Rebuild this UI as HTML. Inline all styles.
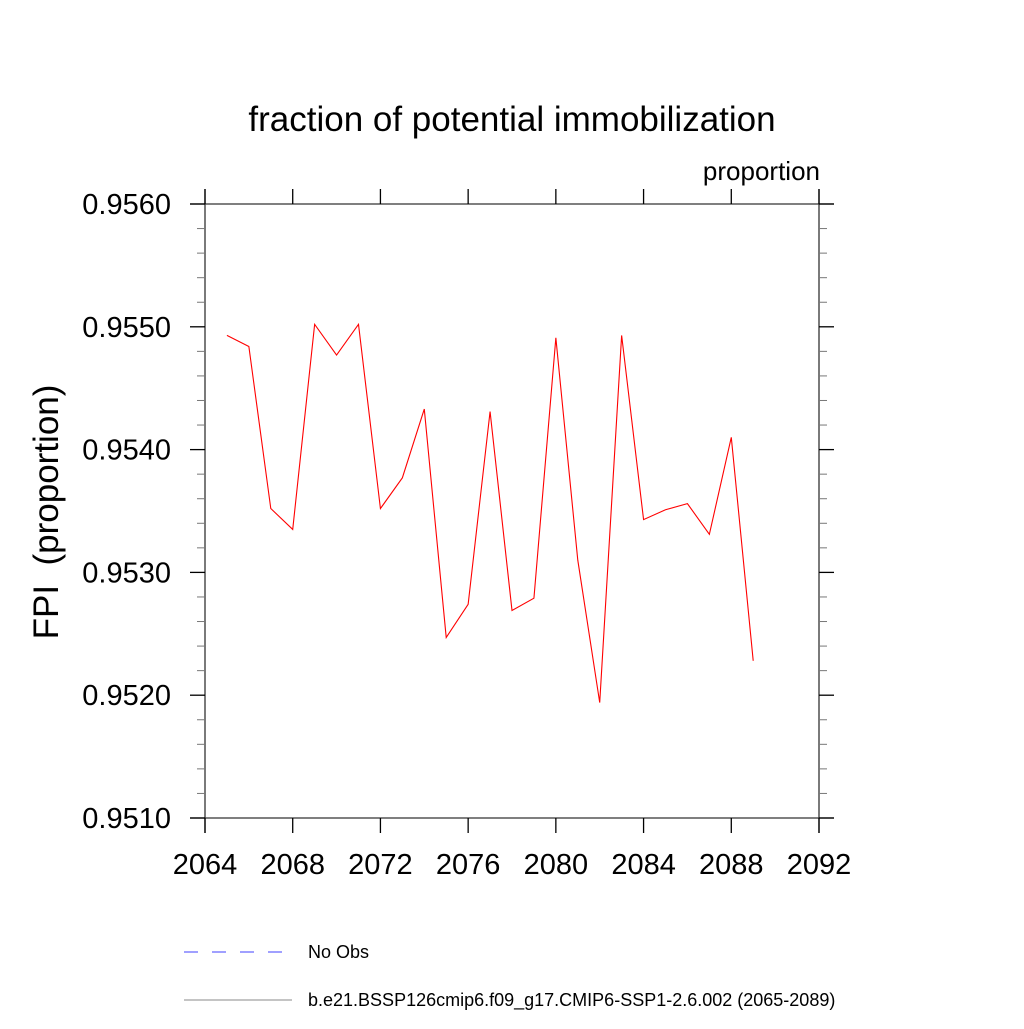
<!DOCTYPE html>
<html><head><meta charset="utf-8"><style>
body{margin:0;background:#fff;}
svg text{font-family:"Liberation Sans",sans-serif;fill:#000;}
</style></head><body>
<svg id="c" width="1024" height="1024" xmlns="http://www.w3.org/2000/svg">
<text x="512" y="131" font-size="35" text-anchor="middle">fraction of potential immobilization</text>
<text x="820" y="180" font-size="26" text-anchor="end">proportion</text>
<text transform="translate(58,512) rotate(-90)" font-size="35" text-anchor="middle">FPI&#160; (proportion)</text>
<g id="axes"></g>
<g id="series"></g>
<g>
<line x1="184" y1="952" x2="292" y2="952" stroke="#4040ff" stroke-width="1" stroke-dasharray="14,14"/>
<text x="308" y="958" font-size="18">No Obs</text>
<line x1="184" y1="1000" x2="292" y2="1000" stroke="#888" stroke-width="1"/>
<text x="308" y="1006" font-size="18">b.e21.BSSP126cmip6.f09_g17.CMIP6-SSP1-2.6.002 (2065-2089)</text>
</g>
</svg>
<script>
const years=[2065,2066,2067,2068,2069,2070,2071,2072,2073,2074,2075,2076,2077,2078,2079,2080,2081,2082,2083,2084,2085,2086,2087,2088,2089];
const values=[0.95493,0.95484,0.95352,0.95335,0.95502,0.95477,0.95502,0.95352,0.95377,0.95433,0.95247,0.95274,0.95431,0.95269,0.95279,0.95491,0.95310,0.95194,0.95493,0.95343,0.95351,0.95356,0.95331,0.95410,0.95228];
const xTicks=[2064,2068,2072,2076,2080,2084,2088,2092];
const yTicks=["0.9510","0.9520","0.9530","0.9540","0.9550","0.9560"];
const X0=205,X1=819,Y0=818,Y1=204;
const xMin=2064,xMax=2092,yMin=0.9510,yMax=0.9560;
function sx(v){return X0+(v-xMin)/(xMax-xMin)*(X1-X0);}
function sy(v){return Y0-(v-yMin)/(yMax-yMin)*(Y0-Y1);}
const NS="http://www.w3.org/2000/svg";
const ax=document.getElementById('axes');
function ln(x1,y1,x2,y2,c,name,w){const l=document.createElementNS(NS,'line');l.setAttribute('x1',x1);l.setAttribute('y1',y1);l.setAttribute('x2',x2);l.setAttribute('y2',y2);l.setAttribute('stroke',c);l.setAttribute('stroke-width',w||1.3);


ax.appendChild(l);return l;}
function tx(x,y,s,anchor,name){const t=document.createElementNS(NS,'text');t.setAttribute('x',x);t.setAttribute('y',y);t.setAttribute('font-size','29');t.setAttribute('text-anchor',anchor);t.textContent=s;


ax.appendChild(t);}
ln(X0,Y1-15,X0,Y0+15,'#333','y-axis-left');
ln(X1,Y1-15,X1,Y0+15,'#333','y-axis-right');
ln(X0-15,Y1,X1+15,Y1,'#333','x-axis-top');
ln(X0-15,Y0,X1+15,Y0,'#333','x-axis-bottom');
xTicks.forEach(v=>{const x=sx(v);ln(x,Y0,x,Y0+15,'#000','x-tick');ln(x,Y1,x,Y1-15,'#000','x-tick-top');tx(x,Y0+56,String(v),'middle','x-tick-label');});
yTicks.forEach((s,i)=>{const v=parseFloat(s);const y=sy(v);ln(X0-15,y,X0,y,'#000','y-tick');ln(X1,y,X1+15,y,'#000','y-tick-right');tx(X0-34,y+10,s,'end','y-tick-label');
if(i<yTicks.length-1){for(let k=1;k<5;k++){const ym=sy(v+k*0.0002);ln(X0-8,ym,X0,ym,'#777','y-minor-tick',1);ln(X1,ym,X1+8,ym,'#777','y-minor-tick-right',1);}}});
const p=document.createElementNS(NS,'polyline');
p.setAttribute('points',years.map((y,i)=>sx(y)+','+sy(values[i])).join(' '));
p.setAttribute('fill','none');p.setAttribute('stroke','#ff0000');p.setAttribute('stroke-width','1.1');


document.getElementById('series').appendChild(p);
</script>
</body></html>
